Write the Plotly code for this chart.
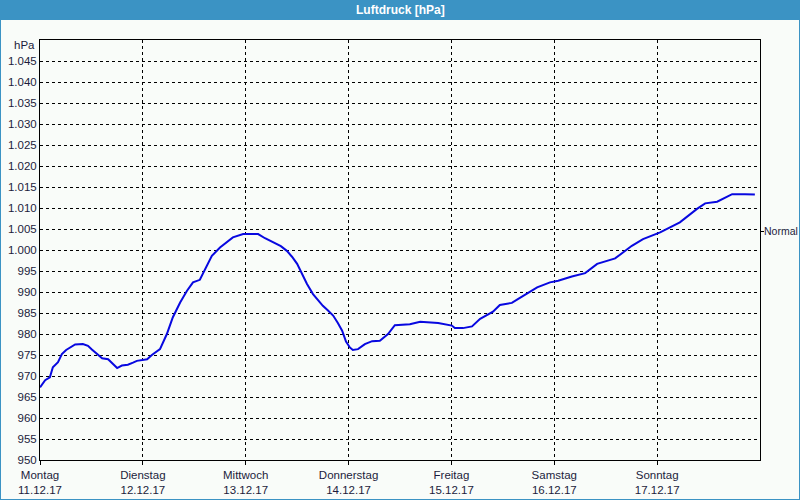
import plotly.graph_objects as go
import pandas as pd

# Hours since Monday 11.12.17 00:00
hours = [0, 1.2, 2.3, 3.0, 4.2, 5.1, 6.1, 7.0, 8.2, 10.0, 11.2, 12.1, 13.3, 14.5, 15.9,
         16.8, 18.0, 19.1, 20.5, 21.7, 22.6, 25.0, 26.1, 28.0, 29.6, 31.0, 32.7, 34.3,
         35.7, 37.3, 38.5, 40.1, 42.0, 43.6, 45.0, 47.4, 50.9, 52.5, 54.8, 56.2, 57.6,
         58.8, 60.0, 61.1, 62.3, 63.7, 64.9, 66.0, 67.2, 68.4, 69.5, 70.5, 71.4, 72.3,
         73.0, 74.2, 75.8, 77.5, 79.3, 81.2, 82.8, 86.3, 88.7, 92.9, 96.1, 96.8, 98.7,
         100.8, 102.7, 105.7, 107.3, 110.1, 111.5, 116.0, 119.0, 120.9, 124.1, 127.2,
         130.0, 134.2, 138.1, 140.7, 144.7, 146.3, 149.3, 153.3, 155.2, 158.0, 161.5,
         164.5, 166.8]
pressure = [967.3, 969.0, 969.7, 972.1, 973.3, 975.2, 976.2, 976.8, 977.5, 977.6, 977.2,
            976.3, 975.2, 974.2, 974.0, 973.0, 971.9, 972.5, 972.7, 973.2, 973.6, 974.0,
            975.0, 976.4, 980.0, 984.0, 987.5, 990.3, 992.3, 992.9, 995.5, 998.6, 1000.6,
            1002.0, 1003.0, 1003.8, 1003.8, 1002.8, 1001.7, 1000.9, 999.8, 998.4, 996.7,
            994.3, 991.9, 989.5, 988.0, 986.7, 985.6, 984.4, 982.6, 980.8, 978.2, 976.8,
            976.2, 976.4, 977.6, 978.3, 978.4, 980.0, 982.1, 982.3, 982.9, 982.6, 982.0,
            981.4, 981.4, 981.8, 983.6, 985.3, 986.9, 987.4, 988.3, 991.1, 992.3, 992.7,
            993.7, 994.5, 996.7, 998.0, 1001.0, 1002.6, 1004.2, 1005.0, 1006.6, 1009.8,
            1011.1, 1011.5, 1013.3, 1013.3, 1013.2]

day_dates = ["2017-12-11", "2017-12-12", "2017-12-13", "2017-12-14",
             "2017-12-15", "2017-12-16", "2017-12-17"]
day_names = ["Montag", "Dienstag", "Mittwoch", "Donnerstag", "Freitag", "Samstag", "Sonntag"]
day_labels = ["11.12.17", "12.12.17", "13.12.17", "14.12.17", "15.12.17", "16.12.17", "17.12.17"]

y_ticks = list(range(950, 1050, 5))
y_ticktext = [(f"{v // 1000}.{v % 1000:03d}" if v >= 1000 else str(v)) for v in y_ticks]
normal_value = 1004.5
normal_label = "Normal"

start = pd.Timestamp("2017-12-11")
times = [start + pd.Timedelta(hours=h) for h in hours]

TXT = "#1c1c3c"
FONT = "Liberation Sans"
L, R, T, B = 40, 40, 40, 40
PW, PH = 800 - L - R, 500 - T - B

def px(x):
    return (x - L) / PW

def py(y):
    return (500 - B - y) / PH

fig = go.Figure()
fig.add_trace(go.Scatter(x=times, y=pressure, mode="lines",
                         line=dict(color="#0808e0", width=2), showlegend=False,
                         hoverinfo="skip"))
# invisible trace for right axis
fig.add_trace(go.Scatter(x=[times[0]], y=[normal_value], yaxis="y2", mode="markers",
                         marker=dict(opacity=0), showlegend=False, hoverinfo="skip"))

fig.update_layout(
    width=800, height=500,
    margin=dict(l=L, r=R, t=T, b=B, autoexpand=False),
    paper_bgcolor="#f9fcf9", plot_bgcolor="#f9fcf9",
    font=dict(family=FONT, size=11, color=TXT),
    xaxis=dict(type="date", range=["2017-12-11", "2017-12-18"],
               tickvals=day_dates,
               ticktext=[f"{n}<br>{d}" for n, d in zip(day_names, day_labels)],
               showgrid=True, gridcolor="#000000", griddash="3px,3px", gridwidth=1,
               showline=True, linecolor="#000000", linewidth=1, mirror=True,
               ticks="outside", ticklen=4, tickcolor="#000000", automargin=False,
               zeroline=False, tickfont=dict(size=11.5, color=TXT)),
    yaxis=dict(range=[950, 1050], tickvals=y_ticks, ticktext=y_ticktext,
               showgrid=True, gridcolor="#000000", griddash="3px,3px", gridwidth=1,
               showline=True, linecolor="#000000", linewidth=1, mirror=True,
               ticks="", zeroline=False, automargin=False,
               tickfont=dict(size=11.5, color=TXT)),
    yaxis2=dict(range=[950, 1050], overlaying="y", side="right",
                tickvals=[normal_value], ticktext=[""],
                showgrid=False, showline=False, zeroline=False, automargin=False,
                ticks="outside", ticklen=3, tickcolor="#000000"),
    shapes=[
        # title bar
        dict(type="rect", xref="paper", yref="paper", x0=px(0), x1=px(800),
             y0=py(20), y1=py(0), fillcolor="#3b93c4", line=dict(width=0), layer="above"),
        # window borders
        dict(type="rect", xref="paper", yref="paper", x0=px(0), x1=px(1),
             y0=py(500), y1=py(20), fillcolor="#3b93c4", line=dict(width=0), layer="above"),
        dict(type="rect", xref="paper", yref="paper", x0=px(799), x1=px(800),
             y0=py(500), y1=py(20), fillcolor="#3b93c4", line=dict(width=0), layer="above"),
        dict(type="rect", xref="paper", yref="paper", x0=px(0), x1=px(800),
             y0=py(500), y1=py(499), fillcolor="#3b93c4", line=dict(width=0), layer="above"),
    ],
    annotations=[
        dict(text="<b>Luftdruck [hPa]</b>", xref="paper", yref="paper", x=0.5, y=py(10),
             xanchor="center", yanchor="middle", showarrow=False,
             font=dict(family=FONT, size=12, color="#ffffff")),
        dict(text="hPa", xref="paper", yref="paper", x=0, y=py(45), xshift=-3,
             xanchor="right", yanchor="middle", showarrow=False,
             font=dict(family=FONT, size=11.5, color=TXT)),
        dict(text=normal_label, xref="paper", yref="y2", x=1, y=normal_value,
             xshift=3, xanchor="left", yanchor="middle", showarrow=False,
             borderpad=0, font=dict(family=FONT, size=10.5, color=TXT)),
    ],
)

fig.write_html("out.html")
